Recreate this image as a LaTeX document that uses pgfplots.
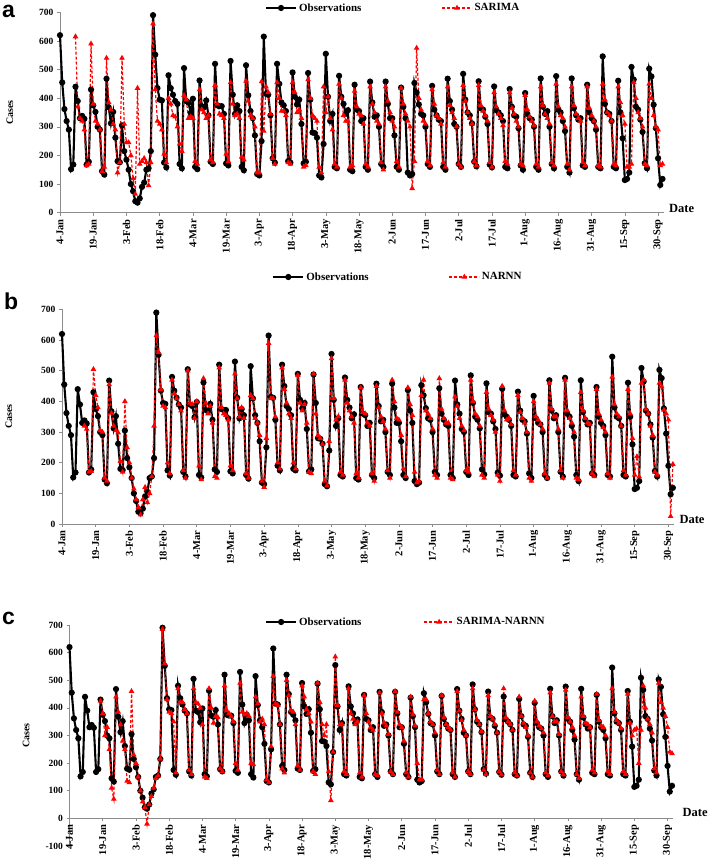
\documentclass[border=0pt]{standalone}
\usepackage{fontspec}
\setmainfont{Liberation Serif}
\newfontfamily\panelfont{Liberation Sans}
\usepackage{pgfplots}
\usepackage{pgfplotstable}
\pgfplotsset{compat=1.18}
\pgfplotstableread{
d o s n h
0 620 nan nan nan
1 455 nan nan nan
2 362 nan nan nan
3 320 nan nan nan
4 290 nan nan nan
5 152 nan nan nan
6 168 nan nan nan
7 440 615 nan nan
8 390 370 nan nan
9 330 330 nan nan
10 338 320 320 nan
11 328 290 310 nan
12 168 165 170 nan
13 178 170 172 nan
14 430 590 505 425
15 375 380 420 380
16 352 320 380 300
17 300 310 305 330
18 290 290 300 250
19 145 145 150 110
20 133 160 140 70
21 468 540 455 440
22 368 385 362 385
23 312 360 320 340
24 352 310 305 280
25 262 290 298 250
26 180 140 205 135
27 176 175 170 130
28 305 540 400 460
29 215 310 250 230
30 185 245 200 200
31 150 245 150 150
32 100 200 115 100
33 75 120 80 60
34 40 65 55 40
35 35 435 30 -20
36 50 170 80 50
37 90 180 120 80
38 105 190 70 110
39 150 175 100 145
40 155 95 155 155
41 215 175 320 215
42 690 660 615 685
43 552 430 560 560
44 435 320 440 430
45 395 310 385 385
46 392 290 380 380
47 175 205 200 350
48 158 175 165 165
49 480 400 470 470
50 435 380 425 420
51 412 340 410 420
52 390 335 390 395
53 380 300 370 380
54 170 240 175 175
55 155 215 150 160
56 505 410 500 470
57 390 395 395 420
58 385 330 390 415
59 348 335 345 400
60 398 330 400 340
61 160 180 190 150
62 152 170 145 145
63 462 430 475 470
64 372 360 395 400
65 368 350 360 345
66 392 330 385 370
67 340 340 330 365
68 178 185 155 180
69 170 175 150 170
70 520 445 510 480
71 375 380 380 390
72 372 345 360 380
73 372 340 355 370
74 345 330 340 350
75 172 205 190 200
76 165 180 175 175
77 530 455 490 490
78 412 380 410 385
79 345 340 350 375
80 375 345 380 380
81 355 330 345 370
82 160 195 165 200
83 148 185 150 195
84 515 460 420 440
85 410 390 410 415
86 355 340 345 350
87 330 330 330 360
88 270 300 290 340
89 135 140 140 140
90 130 140 120 130
91 250 458 280 260
92 615 285 590 515
93 415 440 410 415
94 412 420 410 410
95 340 345 350 340
96 190 190 200 180
97 175 170 180 165
98 520 455 510 500
99 450 400 440 445
100 385 355 395 390
101 375 355 360 385
102 355 340 345 340
103 180 175 200 190
104 175 170 180 175
105 490 455 485 480
106 405 420 395 440
107 378 350 370 395
108 395 360 390 380
109 310 330 330 350
110 172 160 170 170
111 178 165 165 160
112 488 465 490 490
113 395 400 360 420
114 280 340 290 340
115 278 330 280 300
116 262 320 260 340
117 130 160 140 170
118 123 140 125 65
119 240 440 270 240
120 555 350 540 585
121 405 405 410 410
122 320 330 340 340
123 345 290 350 340
124 160 170 170 170
125 155 160 160 160
126 478 450 470 470
127 405 400 395 380
128 380 340 370 360
129 345 320 350 340
130 358 320 330 350
131 150 160 165 165
132 145 165 150 150
133 447 425 445 445
134 360 370 365 380
135 355 345 360 350
136 320 340 330 330
137 330 310 320 320
138 160 170 165 160
139 150 160 140 155
140 458 440 450 455
141 385 380 380 380
142 335 350 350 345
143 340 320 335 335
144 300 310 310 305
145 170 175 175 170
146 160 150 150 160
147 458 440 470 460
148 380 390 400 385
149 330 350 345 340
150 330 320 340 330
151 270 300 290 280
152 160 180 180 165
153 150 160 155 150
154 437 435 445 440
155 370 380 390 375
156 330 345 355 335
157 140 320 170 200
158 130 300 135 140
159 135 85 140 140
160 453 180 420 430
161 420 575 470 430
162 378 400 370 380
163 345 360 360 350
164 340 320 345 340
165 300 310 310 310
166 170 180 160 175
167 160 165 150 160
168 443 430 475 445
169 360 380 375 365
170 340 340 345 340
171 325 330 330 330
172 320 310 330 320
173 160 175 150 165
174 150 160 145 150
175 468 440 415 460
176 390 375 385 390
177 360 350 345 355
178 310 330 320 320
179 300 300 305 300
180 170 170 175 170
181 160 160 170 160
182 485 445 470 470
183 395 390 400 395
184 350 350 360 355
185 340 330 350 340
186 312 310 320 315
187 178 180 160 175
188 162 165 150 160
189 459 445 430 445
190 365 375 375 370
191 360 355 355 360
192 335 340 340 340
193 310 320 300 310
194 168 175 160 170
195 158 160 140 158
196 441 420 450 470
197 358 370 370 365
198 350 345 340 350
199 340 330 345 340
200 320 305 325 320
201 160 180 175 165
202 155 170 160 155
203 432 420 420 440
204 370 365 365 370
205 340 345 345 345
206 335 320 330 330
207 295 300 300 300
208 165 170 150 165
209 150 165 140 150
210 418 410 400 425
211 345 360 350 350
212 330 335 340 335
213 325 320 325 325
214 300 305 310 310
215 160 170 165 165
216 150 160 150 155
217 469 440 460 455
218 370 375 375 370
219 345 345 350 350
220 355 330 350 350
221 300 310 310 305
222 170 175 175 170
223 155 165 150 158
224 477 450 470 465
225 360 370 370 365
226 350 340 345 350
227 320 330 330 330
228 285 300 300 300
229 160 170 150 160
230 140 150 145 145
231 469 440 430 440
232 365 375 370 370
233 340 345 345 345
234 325 330 330 340
235 330 320 325 330
236 165 175 165 175
237 160 165 155 165
238 447 440 440 450
239 350 365 360 355
240 330 340 340 335
241 320 320 315 330
242 290 300 300 300
243 160 165 165 170
244 155 160 150 160
245 546 450 480 470
246 380 395 390 385
247 350 350 360 355
248 345 340 350 345
249 320 320 320 325
250 160 170 175 170
251 155 165 160 160
252 461 440 440 450
253 350 385 360 345
254 260 340 280 300
255 114 310 160 320
256 118 160 220 325
257 140 160 154 200
258 509 170 460 320
259 465 455 470 480
260 370 400 375 400
261 360 350 360 360
262 325 330 320 340
263 282 300 290 310
264 173 170 170 180
265 155 165 160 165
266 503 450 460 490
267 476 400 448 420
268 377 340 372 400
269 295 300 360 370
270 190 290 340 330
271 97 165 25 240
272 118 170 195 235
}\data

\pgfplotsset{
  base/.style={
    scale only axis,
    xmin=0, xmax=272.5,
    axis x line*=bottom, axis y line*=left,
    hide obscured x ticks=false, hide obscured y ticks=false,
    xtick={0,15,...,270},
    xticklabels={4-Jan,19-Jan,3-Feb,18-Feb,4-Mar,19-Mar,3-Apr,18-Apr,3-May,18-May,2-Jun,17-Jun,2-Jul,17-Jul,1-Aug,16-Aug,31-Aug,15-Sep,30-Sep},
    x tick label style={rotate=90, anchor=east, font=\bfseries\fontsize{10.5}{11}\selectfont},
    y tick label style={font=\bfseries\fontsize{9.5}{10}\selectfont},
    /pgf/number format/assume math mode=true,
    axis line style={draw=black!45, line width=0.9pt},
    tick style={black!45, line width=0.6pt},
    major tick length=3pt,
    tick align=outside,
    ylabel={Cases},
    ylabel style={font=\bfseries\fontsize{10}{12}\selectfont, anchor=center},
    xlabel={Date},
    xlabel style={font=\bfseries\fontsize{12.5}{14}\selectfont, anchor=base west},
    clip=false,
    legend columns=2,
    legend style={draw=none, fill=none, font=\bfseries\fontsize{11}{12}\selectfont, anchor=west, inner sep=0pt, outer sep=0pt},
    legend image code/.code={\draw[mark repeat=2,mark phase=2,##1] plot coordinates {(0pt,0pt) (15pt,0pt) (30pt,0pt)};},
  },
  obs/.style={black, line width=2.1pt, mark=*, mark size=2pt},
  pred/.style={red, dash pattern=on 3pt off 2pt, line width=1.2pt, mark=triangle*, mark size=2.1pt, mark options={solid}},
}

\begin{document}
\begin{tikzpicture}
\path[use as bounding box] (0pt,0pt) rectangle (709pt,861pt);

% panel a
\begin{axis}[base,
  at={(60pt,648.3pt)}, anchor=south west,
  width=603.6pt, height=200.4pt,
  ymin=0, ymax=700, ytick={0,100,...,700},
  ylabel style={at={(axis description cs:-0.083,0.5)}},
  xlabel style={at={(axis description cs:1,0)}, xshift=2pt, yshift=0pt},
  legend style={at={(axis description cs:0.3396,1.0215)}, /tikz/every even column/.append style={column sep=78pt}},
]
\addplot[obs] table[x=d,y=o] {\data};
\addlegendentry{Observations}
\addplot[pred] table[x=d,y=s] {\data};
\addlegendentry{SARIMA}
\end{axis}

% panel b
\begin{axis}[base,
  at={(62pt,337pt)}, anchor=south west,
  width=612pt, height=214.5pt,
  ymin=0, ymax=700, ytick={0,100,...,700},
  ylabel style={at={(axis description cs:-0.087,0.5)}},
  xlabel style={at={(axis description cs:1,0)}, xshift=2pt, yshift=0pt},
  legend style={at={(axis description cs:0.3436,1.1515)}, /tikz/every even column/.append style={column sep=78pt}},
]
\addplot[obs] table[x=d,y=o] {\data};
\addlegendentry{Observations}
\addplot[pred] table[x=d,y=n] {\data};
\addlegendentry{NARNN}
\end{axis}

% panel c
\begin{axis}[base,
  at={(69.5pt,15pt)}, anchor=south west,
  width=603.6pt, height=221pt,
  axis x line*=middle,
  ymin=-100, ymax=700, ytick={-100,0,...,700},
  ylabel style={at={(axis description cs:-0.072,0.5)}},
  xlabel style={at={(axis description cs:1,0.125)}, xshift=6pt, yshift=2pt},
  legend style={at={(axis description cs:0.324,1.0136)}, /tikz/every even column/.append style={column sep=60pt}},
]
\addplot[obs] table[x=d,y=o] {\data};
\addlegendentry{Observations}
\addplot[pred] table[x=d,y=h] {\data};
\addlegendentry{SARIMA-NARNN}
\end{axis}

\node[anchor=base west, font=\panelfont\bfseries\fontsize{23}{23}\selectfont, inner sep=0pt] at (2pt,843pt) {a};
\node[anchor=base west, font=\panelfont\bfseries\fontsize{23}{23}\selectfont, inner sep=0pt] at (4pt,551pt) {b};
\node[anchor=base west, font=\panelfont\bfseries\fontsize{23}{23}\selectfont, inner sep=0pt] at (2pt,236pt) {c};
\end{tikzpicture}
\end{document}
